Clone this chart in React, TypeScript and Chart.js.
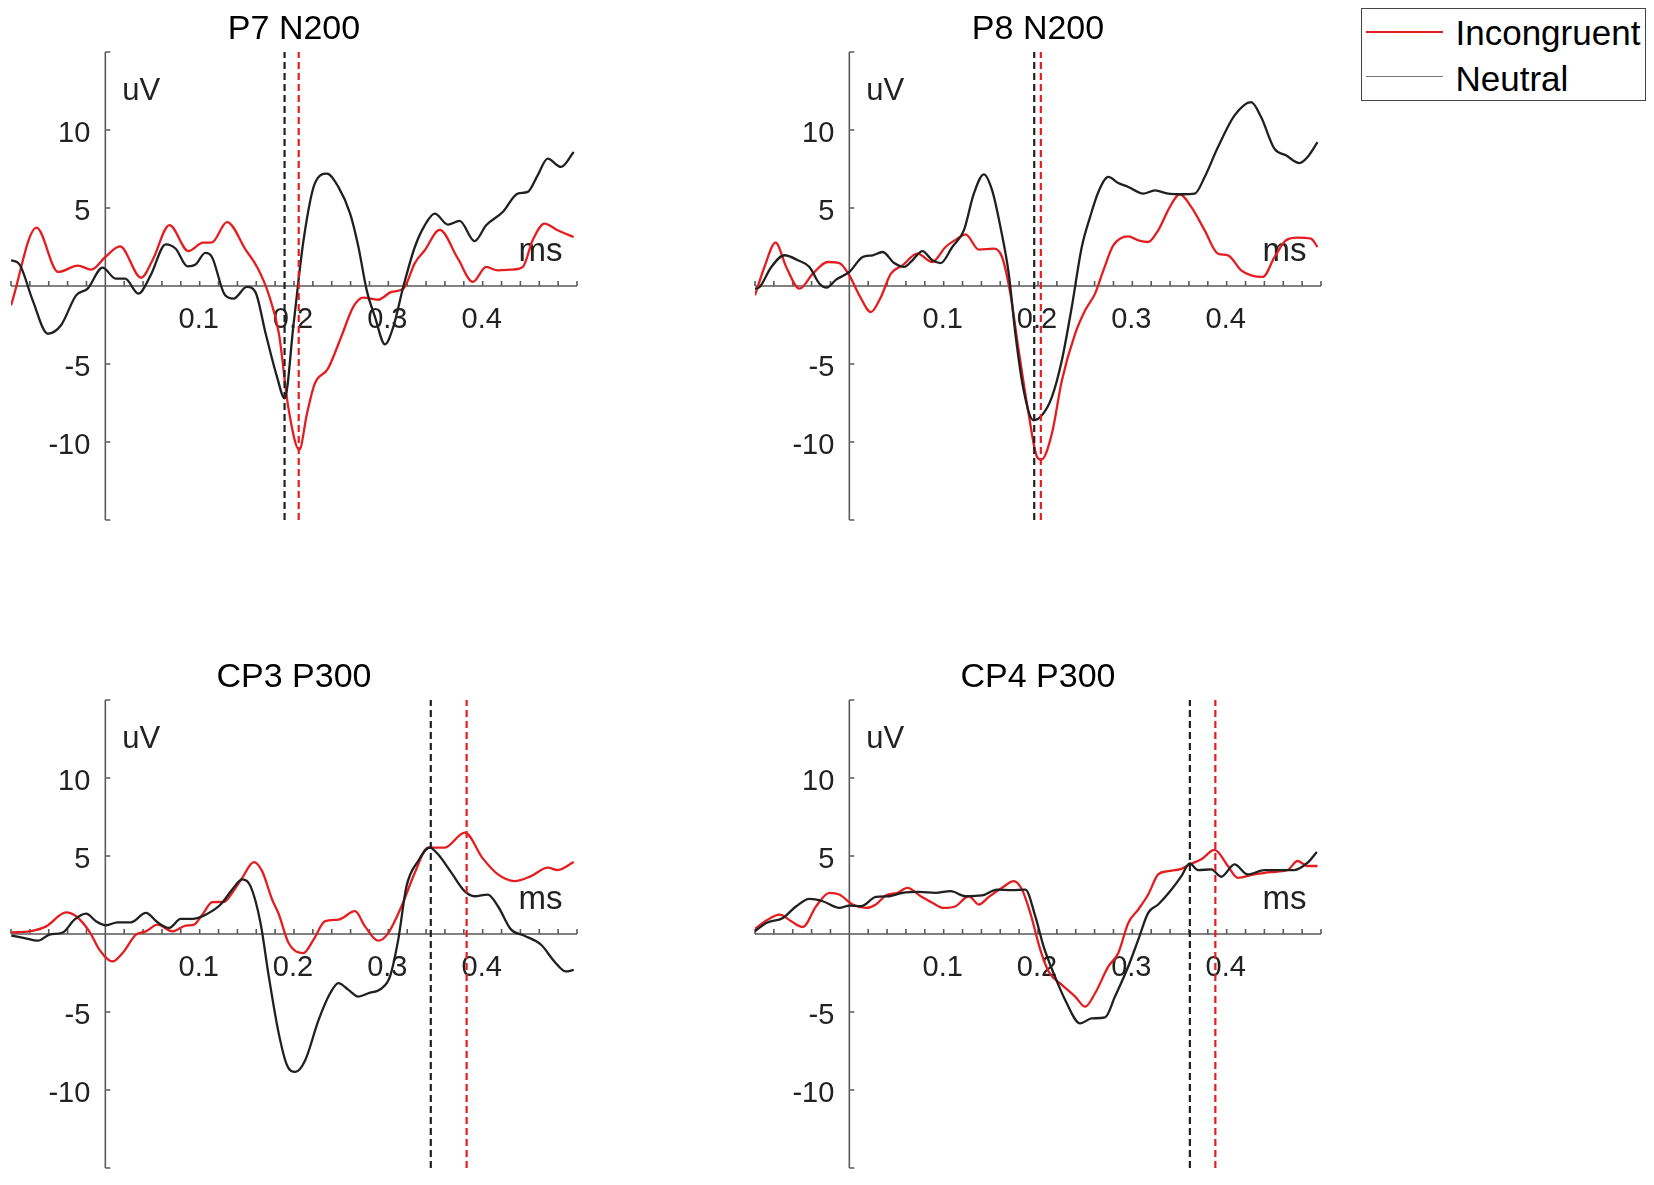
import React, { useEffect, useRef } from "react";
import Chart from "chart.js/auto";

const FONT = '"Liberation Sans", Arial, Helvetica, sans-serif';
const RED = "#e41e20";
const DARK = "#202020";
const AXIS = "#5a5a5a";

// axis decorations (time in s, amplitude in uV)
const xMinorTicks = [
  -0.1, -0.08, -0.06, -0.04, -0.02, 0, 0.02, 0.04, 0.06, 0.08, 0.1, 0.12, 0.14, 0.16, 0.18, 0.2,
  0.22, 0.24, 0.26, 0.28, 0.3, 0.32, 0.34, 0.36, 0.38, 0.4, 0.42, 0.44, 0.46, 0.48, 0.5,
];
const xTickLabels = [0.1, 0.2, 0.3, 0.4];
const yTickMarks = [-15, -10, -5, 5, 10, 15];
const yTickLabels = [10, 5, -5, -10];

const seriesNames = ["Incongruent", "Neutral"];

// P7 N200
const p7IncT = [-0.1, -0.073, -0.05, -0.029, -0.015, 0, 0.0155, 0.038, 0.05, 0.068, 0.088, 0.1035, 0.113, 0.129, 0.149, 0.161, 0.173, 0.184, 0.194, 0.2056, 0.2137, 0.222, 0.236, 0.25, 0.2627, 0.2735, 0.289, 0.3034, 0.316, 0.3281, 0.3386, 0.3544, 0.3738, 0.3896, 0.4037, 0.416, 0.43, 0.4425, 0.453, 0.4655, 0.4796, 0.4965];
const p7IncV = [-1.24, 3.74, 0.9, 1.3, 1.05, 1.86, 2.54, 0.53, 1.65, 3.9, 2.24, 2.78, 2.8, 4.1, 2.3, 1.2, -0.5, -3.05, -7.8, -10.5, -8.2, -6.26, -5.3, -3.27, -1.35, -0.75, -0.88, -0.38, -0.17, 1.47, 2.29, 3.6, 1.75, 0.26, 1.22, 1.0, 1.05, 1.22, 2.93, 4.0, 3.57, 3.14];
const p7NeuT = [-0.1, -0.091, -0.077, -0.061, -0.047, -0.031, -0.0187, -0.003, 0.011, 0.021, 0.035, 0.048, 0.064, 0.0746, 0.087, 0.0958, 0.106, 0.113, 0.127, 0.136, 0.15, 0.159, 0.17, 0.182, 0.1901, 0.1996, 0.2101, 0.222, 0.2349, 0.247, 0.2595, 0.2683, 0.2771, 0.2859, 0.2964, 0.3052, 0.3158, 0.3281, 0.3386, 0.3492, 0.3632, 0.3756, 0.3914, 0.4037, 0.4213, 0.4372, 0.4478, 0.4583, 0.4689, 0.483, 0.4965];
const p7NeuV = [1.65, 1.39, -0.92, -3.06, -2.52, -0.6, -0.17, 1.18, 0.47, 0.47, -0.49, 0.68, 2.67, 2.39, 1.26, 1.39, 2.12, 1.86, -0.6, -0.81, -0.06, -0.38, -3.06, -5.83, -7.2, -2.41, 2.93, 6.56, 7.2, 6.35, 4.64, 2.5, -0.28, -1.99, -3.74, -2.63, -0.06, 2.5, 3.89, 4.64, 3.93, 4.17, 2.88, 3.89, 4.74, 5.92, 6.03, 7.09, 8.16, 7.63, 8.59];

// P8 N200
const p8IncT = [-0.1, -0.09, -0.0782, -0.0669, -0.0528, -0.0387, -0.0229, -0.0106, 0, 0.0106, 0.0229, 0.0335, 0.044, 0.0563, 0.0722, 0.088, 0.102, 0.1144, 0.1232, 0.1373, 0.153, 0.1619, 0.1707, 0.1795, 0.19, 0.199, 0.2035, 0.2147, 0.2253, 0.2394, 0.25, 0.2605, 0.2693, 0.2798, 0.2957, 0.3063, 0.3168, 0.3274, 0.3397, 0.3502, 0.3626, 0.3767, 0.3908, 0.4013, 0.4154, 0.426, 0.4383, 0.4508, 0.463, 0.4752, 0.4893, 0.4963];
const p8IncV = [-0.6, 1.22, 2.78, 1.22, -0.17, 0.79, 1.54, 1.47, 0.68, -0.6, -1.67, -0.7, 0.79, 1.32, 2.07, 1.54, 2.5, 3.03, 3.31, 2.33, 2.39, 1.86, -0.49, -4.12, -8.18, -10.96, -11.13, -9.47, -6.05, -3.06, -1.56, -0.49, 1.0, 2.6, 3.18, 2.93, 2.82, 3.57, 5.06, 5.88, 5.06, 3.57, 2.07, 1.97, 1.0, 0.68, 0.58, 1.86, 2.93, 3.1, 3.03, 2.5];
const p8NeuT = [-0.1, -0.0951, -0.0827, -0.0687, -0.0546, -0.0423, -0.0317, -0.024, -0.0141, 0, 0.0141, 0.0246, 0.0352, 0.0475, 0.058, 0.0669, 0.0774, 0.088, 0.0968, 0.1091, 0.1214, 0.132, 0.1426, 0.1514, 0.1602, 0.169, 0.176, 0.1848, 0.1953, 0.2041, 0.2147, 0.2253, 0.2358, 0.2464, 0.2552, 0.264, 0.2746, 0.2851, 0.2957, 0.3116, 0.324, 0.3379, 0.352, 0.3661, 0.3767, 0.3908, 0.4084, 0.4259, 0.4365, 0.4506, 0.4629, 0.477, 0.4858, 0.4963];
const p8NeuV = [-0.17, -0.06, 1.22, 1.97, 1.65, 1.22, 0.15, -0.1, 0.41, 0.9, 1.86, 1.97, 2.18, 1.47, 1.22, 1.65, 2.24, 1.65, 1.47, 2.5, 3.57, 5.92, 7.16, 6.13, 3.78, 0.79, -3.06, -6.69, -8.61, -8.29, -7.12, -4.76, -1.35, 2.5, 4.42, 6.03, 6.99, 6.6, 6.35, 5.92, 6.13, 5.92, 5.88, 5.92, 6.99, 8.91, 10.94, 11.79, 10.83, 8.8, 8.38, 7.88, 8.27, 9.23];

// CP3 P300
const cp3IncT = [-0.0996, -0.0803, -0.0627, -0.0416, -0.031, -0.017, -0.0063, 0.0077, 0.0183, 0.0324, 0.043, 0.0553, 0.0711, 0.0852, 0.094, 0.1028, 0.1134, 0.1257, 0.1345, 0.1451, 0.1574, 0.1662, 0.1768, 0.1837, 0.1943, 0.2101, 0.2207, 0.233, 0.2471, 0.2647, 0.2753, 0.2893, 0.2999, 0.314, 0.3281, 0.3422, 0.3598, 0.381, 0.4003, 0.4162, 0.4338, 0.4513, 0.469, 0.4796, 0.4965];
const cp3IncV = [0.1, 0.17, 0.49, 1.39, 1.14, 0.17, -1.0, -1.76, -1.22, -0.04, 0.17, 0.6, 0.17, 0.54, 0.6, 1.24, 2.04, 2.06, 2.64, 3.6, 4.61, 4.03, 2.21, 1.3, -0.58, -1.22, -0.36, 0.82, 0.92, 1.46, 0.49, -0.43, 0.06, 1.78, 3.93, 5.54, 5.54, 6.5, 4.83, 3.82, 3.39, 3.71, 4.25, 4.1, 4.61];
const cp3NeuT = [-0.0996, -0.0856, -0.0715, -0.0592, -0.0451, -0.0327, -0.0204, -0.0099, 0.0007, 0.013, 0.0271, 0.043, 0.0553, 0.0676, 0.0799, 0.0922, 0.1063, 0.1222, 0.1345, 0.1451, 0.1539, 0.1645, 0.1733, 0.1838, 0.1926, 0.2014, 0.2119, 0.226, 0.2383, 0.2471, 0.2577, 0.2682, 0.2788, 0.2929, 0.3017, 0.3105, 0.3193, 0.3316, 0.3439, 0.3527, 0.3668, 0.3808, 0.3914, 0.4055, 0.4162, 0.4302, 0.4443, 0.462, 0.476, 0.4883, 0.4965];
const cp3NeuV = [-0.1, -0.26, -0.43, -0.04, 0.1, 0.92, 1.3, 0.82, 0.56, 0.75, 0.75, 1.35, 0.75, 0.39, 0.97, 0.97, 1.24, 1.89, 2.85, 3.5, 3.07, 0.71, -2.73, -6.37, -8.41, -8.84, -8.09, -5.52, -3.8, -3.15, -3.58, -4.01, -3.8, -3.48, -2.73, -0.36, 3.07, 4.68, 5.54, 5.11, 3.93, 2.75, 2.42, 2.53, 1.78, 0.28, -0.11, -0.69, -1.76, -2.4, -2.3];

// CP4 P300
const cp4IncT = [-0.1003, -0.088, -0.0739, -0.0616, -0.0493, -0.0352, -0.0211, -0.0106, 0.0035, 0.0176, 0.0282, 0.0387, 0.051, 0.0616, 0.0757, 0.088, 0.1003, 0.1126, 0.1267, 0.1373, 0.1479, 0.162, 0.1742, 0.183, 0.1918, 0.2024, 0.2112, 0.2253, 0.2394, 0.25, 0.2605, 0.2746, 0.2851, 0.2957, 0.3063, 0.3168, 0.3274, 0.3379, 0.352, 0.3608, 0.3731, 0.3872, 0.4013, 0.4118, 0.4294, 0.447, 0.4646, 0.4752, 0.4858, 0.4963];
const cp4IncV = [0.32, 0.86, 1.24, 0.82, 0.45, 1.78, 2.64, 2.53, 1.89, 1.67, 1.89, 2.47, 2.64, 2.96, 2.42, 2.0, 1.67, 1.78, 2.42, 1.89, 2.38, 2.96, 3.39, 2.85, 1.35, -1.0, -2.4, -3.26, -4.01, -4.66, -3.8, -2.08, -1.22, 0.71, 1.57, 2.53, 3.82, 4.03, 4.18, 4.46, 4.79, 5.39, 4.36, 3.6, 3.82, 3.97, 4.1, 4.68, 4.36, 4.36];
const cp4NeuT = [-0.1003, -0.088, -0.0704, -0.0563, -0.0423, -0.0282, -0.0106, 0, 0.0123, 0.0282, 0.0423, 0.0563, 0.074, 0.0915, 0.1074, 0.1232, 0.1408, 0.1567, 0.1725, 0.1866, 0.1971, 0.2059, 0.2165, 0.2288, 0.2447, 0.257, 0.2711, 0.2816, 0.2957, 0.3063, 0.3168, 0.3274, 0.3415, 0.352, 0.3608, 0.3696, 0.3837, 0.3942, 0.4083, 0.4224, 0.44, 0.4576, 0.4717, 0.4858, 0.4956];
const cp4NeuV = [0.17, 0.71, 1.03, 1.78, 2.25, 2.1, 1.67, 1.82, 1.78, 2.38, 2.42, 2.64, 2.7, 2.64, 2.75, 2.42, 2.47, 2.85, 2.81, 2.85, 1.14, -0.79, -2.51, -4.23, -5.73, -5.41, -5.34, -4.01, -2.08, -0.36, 1.35, 1.89, 2.85, 3.71, 4.53, 4.1, 4.14, 3.67, 4.46, 3.82, 4.1, 4.1, 4.1, 4.57, 5.26];

// peak latencies (s): [incongruent, neutral]
const p7Latency = [0.205, 0.19];
const p8Latency = [0.203, 0.196];
const cp3Latency = [0.383, 0.345];
const cp4Latency = [0.388, 0.361];

const PLOT_W = 566;
const PLOT_H = 468;
const PAD_X = 4;
const PAD_B = 10;
const TITLE_H = 52;

// matlab-like axes through the origin
const erpAxes = {
  id: "erpAxes",
  beforeDatasetsDraw(chart: any) {
    const { ctx, chartArea } = chart;
    const xs = chart.scales.x;
    const ys = chart.scales.y;
    const x0 = xs.getPixelForValue(0);
    const y0 = ys.getPixelForValue(0);
    ctx.save();
    ctx.strokeStyle = AXIS;
    ctx.lineWidth = 1.6;
    ctx.beginPath();
    ctx.moveTo(chartArea.left, y0);
    ctx.lineTo(chartArea.right, y0);
    ctx.moveTo(x0, chartArea.top);
    ctx.lineTo(x0, chartArea.bottom);
    xMinorTicks.forEach((v) => {
      const px = xs.getPixelForValue(v);
      ctx.moveTo(px, y0);
      ctx.lineTo(px, y0 - 5);
    });
    yTickMarks.forEach((v) => {
      const py = ys.getPixelForValue(v);
      ctx.moveTo(x0, py);
      ctx.lineTo(x0 + 5, py);
    });
    ctx.stroke();

    ctx.fillStyle = "#222";
    ctx.textBaseline = "alphabetic";
    ctx.font = `29px ${FONT}`;
    ctx.textAlign = "center";
    xTickLabels.forEach((v) => ctx.fillText(String(v), xs.getPixelForValue(v) - 1, y0 + 42));
    ctx.textAlign = "right";
    yTickLabels.forEach((v) => ctx.fillText(String(v), x0 - 15, ys.getPixelForValue(v) + 12));

    ctx.textAlign = "left";
    ctx.font = `31px ${FONT}`;
    ctx.fillText("uV", xs.getPixelForValue(0.018), ys.getPixelForValue(11.9));
    ctx.font = `33px ${FONT}`;
    ctx.fillText("ms", xs.getPixelForValue(0.438), ys.getPixelForValue(1.62));
    ctx.restore();
  },
};

type PanelProps = {
  title: string;
  incT: number[];
  incV: number[];
  neuT: number[];
  neuV: number[];
  latency: number[];
  left: number;
  top: number;
};

const ErpPanel = ({ title, incT, incV, neuT, neuV, latency, left, top }: PanelProps) => {
  const chartRef = useRef<HTMLCanvasElement>(null);

  useEffect(() => {
    if (!chartRef.current) return;
    const points = (ts: number[], vs: number[]) => ts.map((t, i) => ({ x: t, y: vs[i] }));
    const vline = (t: number) => [
      { x: t, y: -15 },
      { x: t, y: 15 },
    ];

    const chart = new Chart(chartRef.current, {
      type: "line",
      data: {
        datasets: [
          { label: "Neutral peak", data: vline(latency[1]), borderColor: DARK, borderWidth: 2.2, borderDash: [7, 4] },
          { label: "Incongruent peak", data: vline(latency[0]), borderColor: RED, borderWidth: 2.2, borderDash: [7, 4] },
          { label: seriesNames[1], data: points(neuT, neuV), borderColor: DARK, borderWidth: 2.3, cubicInterpolationMode: "monotone" },
          { label: seriesNames[0], data: points(incT, incV), borderColor: RED, borderWidth: 2.3, cubicInterpolationMode: "monotone" },
        ],
      },
      options: {
        responsive: false,
        animation: false,
        layout: { padding: { left: PAD_X, right: PAD_X, top: 0, bottom: PAD_B } },
        elements: { point: { radius: 0 } },
        scales: {
          x: { type: "linear", min: -0.1, max: 0.5, display: false },
          y: { type: "linear", min: -15, max: 15, display: false },
        },
        plugins: {
          legend: { display: false },
          tooltip: { enabled: false },
          title: {
            display: true,
            text: title,
            color: "#000",
            font: { family: FONT, size: 34, weight: "normal", lineHeight: 1.2 },
            padding: { top: 9, bottom: 2.2 },
          },
        },
      },
      plugins: [erpAxes],
    } as any);

    return () => {
      chart.destroy();
    };
  }, []);

  return (
    <canvas
      ref={chartRef}
      width={PLOT_W + 2 * PAD_X}
      height={TITLE_H + PLOT_H + PAD_B}
      style={{ position: "absolute", left: left - PAD_X, top: top - TITLE_H }}
    />
  );
};

const Legend = () => (
  <div
    style={{
      position: "absolute",
      left: 1361,
      top: 8,
      width: 285,
      height: 93,
      boxSizing: "border-box",
      border: "1.5px solid #444",
      background: "#fff",
      fontFamily: FONT,
      fontSize: 35,
      lineHeight: "35px",
      color: "#000",
    }}
  >
    <div style={{ position: "absolute", left: 4, top: 22, width: 77, height: 2, background: RED }} />
    <div style={{ position: "absolute", left: 93.5, top: 6, whiteSpace: "nowrap" }}>{seriesNames[0]}</div>
    <div style={{ position: "absolute", left: 4, top: 66.5, width: 77, height: 1.5, background: "#777" }} />
    <div style={{ position: "absolute", left: 93.5, top: 51.6, whiteSpace: "nowrap" }}>{seriesNames[1]}</div>
  </div>
);

const App = () => {
  return (
    <div
      style={{
        position: "absolute",
        left: 0,
        top: 0,
        width: 1654,
        height: 1185,
        background: "#fff",
        overflow: "hidden",
      }}
    >
      <ErpPanel title="P7 N200" incT={p7IncT} incV={p7IncV} neuT={p7NeuT} neuV={p7NeuV} latency={p7Latency} left={11} top={52} />
      <ErpPanel title="P8 N200" incT={p8IncT} incV={p8IncV} neuT={p8NeuT} neuV={p8NeuV} latency={p8Latency} left={755} top={52} />
      <ErpPanel title="CP3 P300" incT={cp3IncT} incV={cp3IncV} neuT={cp3NeuT} neuV={cp3NeuV} latency={cp3Latency} left={11} top={700} />
      <ErpPanel title="CP4 P300" incT={cp4IncT} incV={cp4IncV} neuT={cp4NeuT} neuV={cp4NeuV} latency={cp4Latency} left={755} top={700} />
      <Legend />
    </div>
  );
};

export default App;
